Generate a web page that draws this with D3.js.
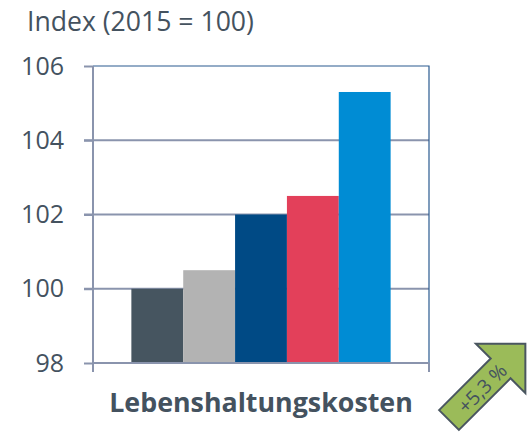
<!DOCTYPE html>
<html>
<head>
<meta charset="utf-8">
<script src="https://cdn.jsdelivr.net/npm/d3@7"></script>
<style>
  body { margin: 0; background: #fff; }
  svg { font-family: "Open Sans", sans-serif; display: block; }
</style>
</head>
<body>
<svg id="viz"></svg>
<script>
var width = 530;
var height = 436;

// data
var category = "Lebenshaltungskosten";
var series = ["s1", "s2", "s3", "s4", "s5"];
var values = [100, 100.5, 102, 102.5, 105.3];
var colors = ["#465560", "#b3b3b3", "#004a85", "#e3405a", "#008cd4"];
var yTicks = [98, 100, 102, 104, 106];
var title = "Index (2015 = 100)";
var change = "+5,3 %";

var margin = { top: 66, right: 101, bottom: 73, left: 93 };
var textColor = "#44525f";
var axisColor = "#8a94ad";

var svg = d3.select("#viz")
    .attr("width", width)
    .attr("height", height);

var y = d3.scaleLinear()
    .domain([98, 106])
    .range([height - margin.bottom, margin.top]);

var x = d3.scaleBand()
    .domain(series)
    .range([margin.left, width - margin.right])
    .paddingInner(0)
    .paddingOuter(0.74);

var x0 = margin.left, x1 = width - margin.right;

// title
svg.append("text")
    .attr("x", 27)
    .attr("y", 31)
    .attr("fill", textColor)
    .style("font-size", "26.6px")
    .text(title);

// gridlines
svg.append("g")
    .selectAll("line")
    .data(yTicks.filter(function (d) { return d > 98 && d < 106; }))
    .enter().append("line")
    .attr("x1", x0 - 9)
    .attr("x2", x1)
    .attr("y1", function (d) { return y(d); })
    .attr("y2", function (d) { return y(d); })
    .attr("stroke", axisColor)
    .attr("stroke-width", 2);

// bars
svg.append("g")
    .selectAll("rect")
    .data(values)
    .enter().append("rect")
    .attr("x", function (d, i) { return x(series[i]); })
    .attr("width", x.bandwidth())
    .attr("y", function (d) { return y(d); })
    .attr("height", function (d) { return y(98) - y(d); })
    .attr("fill", function (d, i) { return colors[i]; });

// top and right border
svg.append("path")
    .attr("d", "M" + x0 + "," + y(106) + "H" + x1 + "V" + y(98))
    .attr("fill", "none")
    .attr("stroke", "#2a5a90")
    .attr("stroke-width", 1.2);

// y axis
var yAxis = d3.axisLeft(y)
    .tickValues(yTicks)
    .tickSize(9)
    .tickPadding(20)
    .tickFormat(d3.format("d"));

var gy = svg.append("g")
    .attr("transform", "translate(" + x0 + ",0)")
    .call(yAxis);
gy.select(".domain").remove();
gy.selectAll(".tick line").attr("stroke", axisColor).attr("stroke-width", 2);
gy.selectAll(".tick text")
    .attr("fill", textColor)
    .style("font-size", "25px")
    .style("font-family", "Open Sans");

// axis lines
svg.append("line")
    .attr("x1", x0).attr("x2", x0)
    .attr("y1", y(106)).attr("y2", y(98) + 9)
    .attr("stroke", axisColor).attr("stroke-width", 2);
svg.append("line")
    .attr("x1", x0).attr("x2", x1)
    .attr("y1", y(98)).attr("y2", y(98))
    .attr("stroke", axisColor).attr("stroke-width", 2);
svg.append("line")
    .attr("x1", x1).attr("x2", x1)
    .attr("y1", y(98)).attr("y2", y(98) + 9)
    .attr("stroke", axisColor).attr("stroke-width", 2);

// category label
svg.append("text")
    .attr("x", (x0 + x1) / 2)
    .attr("y", 412)
    .attr("text-anchor", "middle")
    .attr("fill", textColor)
    .style("font-size", "26.8px")
    .style("font-weight", "bold")
    .text(category);

// arrow
var arrow = svg.append("g")
    .attr("transform", "translate(449,420) rotate(-45)");
arrow.append("polygon")
    .attr("points", [[0, -14], [73, -14], [73, -35], [108, 0], [73, 35], [73, 14], [0, 14]].join(" "))
    .attr("fill", "#9bbb59")
    .attr("stroke", "#4a5660")
    .attr("stroke-width", 2)
    .attr("stroke-linejoin", "miter");
arrow.append("text")
    .attr("x", 46)
    .attr("y", 3)
    .attr("text-anchor", "middle")
    .attr("dominant-baseline", "middle")
    .attr("fill", textColor)
    .style("font-size", "19.5px")
    .text(change);
</script>
</body>
</html>
